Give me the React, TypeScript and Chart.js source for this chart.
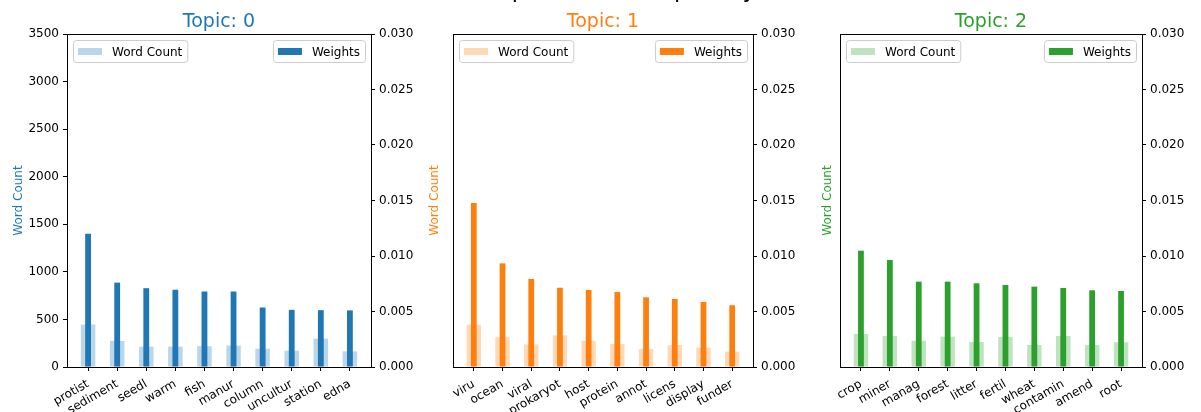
import React, { useEffect, useRef } from "react";
import { Chart, registerables } from "chart.js";

Chart.register(...registerables);

// ---------- data ----------
const suptitleText = "Word Count and Importance of Topic Keywords";

const topic0Words = ["protist", "sediment", "seedl", "warm", "fish", "manur", "column", "uncultur", "station", "edna"];
const topic0Counts = [446, 274, 214, 214, 219, 225, 193, 172, 298, 165];
const topic0Weights = [0.0120, 0.0076, 0.0071, 0.00696, 0.0068, 0.0068, 0.00536, 0.00515, 0.00512, 0.0051];

const topic1Words = ["viru", "ocean", "viral", "prokaryot", "host", "protein", "annot", "licens", "display", "funder"];
const topic1Counts = [445, 312, 238, 333, 273, 242, 189, 231, 203, 161];
const topic1Weights = [0.01477, 0.00934, 0.00793, 0.00714, 0.00694, 0.00676, 0.00628, 0.00613, 0.00586, 0.00556];

const topic2Words = ["crop", "miner", "manag", "forest", "litter", "fertil", "wheat", "contamin", "amend", "root"];
const topic2Counts = [347, 326, 276, 319, 263, 315, 231, 326, 231, 260];
const topic2Weights = [0.01048, 0.00964, 0.00769, 0.00769, 0.00754, 0.00739, 0.00724, 0.00712, 0.00691, 0.00685];

const countTickMax = 3500;
const countTickStep = 500;
const weightTickMax = 0.03;
const weightTickStep = 0.005;

const topicTitles = ["Topic: 0", "Topic: 1", "Topic: 2"];
const topicColors = ["#1f77b4", "#ff7f0e", "#2ca02c"];
const countLabel = "Word Count";
const weightLabel = "Weights";

// ---------- layout ----------
const FONT = '"DejaVu Sans", sans-serif';
const AREA_TOP = 34;
const AREA_BOTTOM = 367;
const LEFT_AXIS_W = 67;
const RIGHT_AXIS_W = 50;

const panels = [
  { words: topic0Words, counts: topic0Counts, weights: topic0Weights, left: 67, right: 371, showLeft: true, ylabelX: 22 },
  { words: topic1Words, counts: topic1Counts, weights: topic1Weights, left: 453, right: 753, showLeft: false, ylabelX: 437.5 },
  { words: topic2Words, counts: topic2Counts, weights: topic2Weights, left: 840, right: 1142, showLeft: false, ylabelX: 831 },
];

function rgba(hex: string, a: number) {
  const n = parseInt(hex.slice(1), 16);
  return `rgba(${(n >> 16) & 255},${(n >> 8) & 255},${n & 255},${a})`;
}

function roundRect(ctx: CanvasRenderingContext2D, x: number, y: number, w: number, h: number, r: number) {
  ctx.beginPath();
  ctx.moveTo(x + r, y);
  ctx.lineTo(x + w - r, y);
  ctx.arcTo(x + w, y, x + w, y + r, r);
  ctx.lineTo(x + w, y + h - r);
  ctx.arcTo(x + w, y + h, x + w - r, y + h, r);
  ctx.lineTo(x + r, y + h);
  ctx.arcTo(x, y + h, x, y + h - r, r);
  ctx.lineTo(x, y + r);
  ctx.arcTo(x, y, x + r, y, r);
  ctx.closePath();
}

const framePlugin = {
  id: "mplFrame",
  afterDraw(chart: any) {
    const { ctx, chartArea: a } = chart;
    ctx.save();
    ctx.strokeStyle = "#000";
    ctx.lineWidth = 1;
    ctx.beginPath();
    ctx.moveTo(a.left, a.top + 0.5);
    ctx.lineTo(a.right, a.top + 0.5);
    ctx.stroke();
    ctx.restore();
  },
};

const legendPlugin = {
  id: "mplLegend",
  afterDraw(chart: any) {
    const { ctx, chartArea: a } = chart;
    const ds = chart.data.datasets;
    const countDs = ds.find((d: any) => d.label === countLabel);
    const weightDs = ds.find((d: any) => d.label === weightLabel);
    ctx.save();
    ctx.font = `12px ${FONT}`;
    const boxH = 22;
    const drawItem = (d: any, side: "left" | "right") => {
      const tw = ctx.measureText(d.label).width;
      const w = 5 + 24 + 10 + tw + 5;
      const x = side === "left" ? a.left + 6 : a.right - 6 - w;
      const y = a.top + 6;
      roundRect(ctx, x + 0.5, y + 0.5, w, boxH, 3);
      ctx.fillStyle = "rgba(255,255,255,0.8)";
      ctx.fill();
      ctx.strokeStyle = "#cccccc";
      ctx.lineWidth = 1;
      ctx.stroke();
      ctx.fillStyle = d.backgroundColor;
      ctx.fillRect(x + 5, y + 8, 24, 7);
      ctx.fillStyle = "#000";
      ctx.textBaseline = "alphabetic";
      ctx.textAlign = "left";
      ctx.fillText(d.label, x + 39, y + 15.5);
    };
    if (countDs) drawItem(countDs, "left");
    if (weightDs) drawItem(weightDs, "right");
    ctx.restore();
  },
};

function Panel({ idx }: { idx: number }) {
  const ref = useRef<HTMLCanvasElement>(null);
  const p = panels[idx];
  const color = topicColors[idx];
  const canvasLeft = p.left - LEFT_AXIS_W;
  const canvasW = p.right - p.left + LEFT_AXIS_W + RIGHT_AXIS_W;

  useEffect(() => {
    if (!ref.current) return;
    const tickFont = { family: FONT, size: 12 };
    const chart = new Chart(ref.current, {
      type: "bar",
      data: {
        datasets: [
          {
            label: weightLabel,
            data: p.weights.map((v, i) => ({ x: i, y: v })),
            yAxisID: "yW",
            backgroundColor: color,
            barPercentage: 0.2,
            categoryPercentage: 1,
            grouped: false,
            order: 0,
          } as any,
          {
            label: countLabel,
            data: p.counts.map((v, i) => ({ x: i, y: v })),
            yAxisID: "yC",
            backgroundColor: rgba(color, 0.3),
            barPercentage: 0.5,
            categoryPercentage: 1,
            grouped: false,
            order: 1,
          } as any,
        ],
      },
      options: {
        animation: false,
        responsive: false,
        events: [],
        layout: { padding: { top: AREA_TOP, left: 0, right: 0, bottom: 0 } },
        plugins: { legend: { display: false }, tooltip: { enabled: false }, title: { display: false } },
        scales: {
          x: {
            type: "linear",
            position: "bottom",
            min: -0.725,
            max: p.words.length - 1 + 0.725,
            offset: false,
            afterBuildTicks: (s: any) => {
              s.ticks = p.words.map((_, i) => ({ value: i }));
            },
            afterFit: (s: any) => {
              s.height = 412 - AREA_BOTTOM;
            },
            grid: { drawOnChartArea: false, drawTicks: true, tickLength: 4, color: "#000", offset: false },
            border: { display: true, color: "#000", width: 1 },
            ticks: {
              autoSkip: false,
              minRotation: 30,
              maxRotation: 30,
              padding: 6,
              color: "#000",
              font: tickFont,
              callback: (v: any) => p.words[Math.round(Number(v))],
            },
          },
          yC: {
            type: "linear",
            position: "left",
            min: 0,
            max: countTickMax,
            afterFit: (s: any) => {
              s.width = LEFT_AXIS_W;
            },
            grid: { drawOnChartArea: false, drawTicks: p.showLeft, tickLength: 4, color: "#000" },
            border: { display: true, color: "#000", width: 1 },
            ticks: {
              display: p.showLeft,
              stepSize: countTickStep,
              padding: 4,
              color: "#000",
              font: tickFont,
              callback: (v: any) => String(v),
            },
          },
          yW: {
            type: "linear",
            position: "right",
            min: 0,
            max: weightTickMax,
            afterFit: (s: any) => {
              s.width = RIGHT_AXIS_W;
            },
            grid: { drawOnChartArea: false, drawTicks: true, tickLength: 4, color: "#000" },
            border: { display: true, color: "#000", width: 1 },
            ticks: {
              stepSize: weightTickStep,
              padding: 4,
              color: "#000",
              font: tickFont,
              callback: (v: any) => Number(v).toFixed(3),
            },
          },
        },
      } as any,
      plugins: [framePlugin, legendPlugin],
    });
    return () => chart.destroy();
  }, []);

  return (
    <canvas
      ref={ref}
      width={canvasW}
      height={412}
      style={{ position: "absolute", left: canvasLeft, top: 0, width: canvasW, height: 412 }}
    />
  );
}

export default function App() {
  return (
    <div style={{ position: "fixed", left: 0, top: 0, width: 1201, height: 412, background: "#fff", overflow: "hidden" }}>
      {panels.map((_, i) => (
        <Panel key={i} idx={i} />
      ))}
      <svg
        width={1201}
        height={412}
        style={{ position: "absolute", left: 0, top: 0, pointerEvents: "none" }}
        fontFamily={FONT}
      >
        <text x={292} y={-3} fontSize={22.8} fill="#000">
          {suptitleText}
        </text>
        {panels.map((p, i) => (
          <g key={i}>
            <text x={(p.left + p.right) / 2} y={27} fontSize={19} fill={topicColors[i]} textAnchor="middle">
              {topicTitles[i]}
            </text>
            <text
              transform={`translate(${p.ylabelX},${(AREA_TOP + AREA_BOTTOM) / 2}) rotate(-90)`}
              fontSize={12}
              fill={topicColors[i]}
              textAnchor="middle"
            >
              {countLabel}
            </text>
          </g>
        ))}
      </svg>
    </div>
  );
}
